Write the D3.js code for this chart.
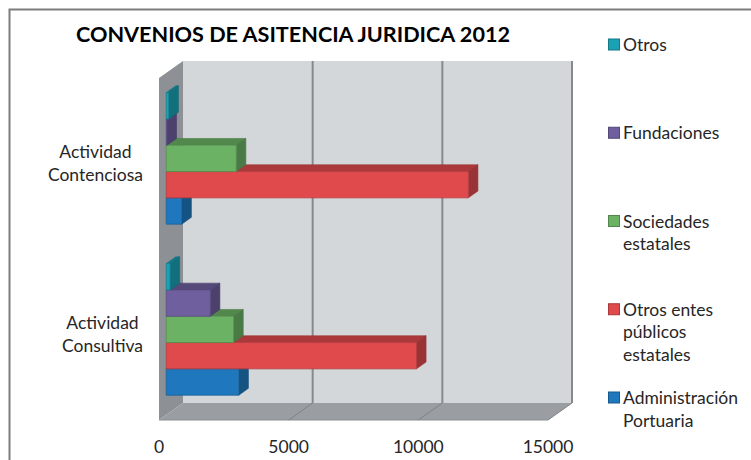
<!DOCTYPE html>
<html>
<head>
<meta charset="utf-8">
<script src="https://cdn.jsdelivr.net/npm/d3@7"></script>
<style>
  body { margin: 0; background: #ffffff; }
  svg { display: block; font-family: Lato, "Open Sans", sans-serif; }
</style>
</head>
<body>
<svg id="chart" width="751" height="460"></svg>
<script>
// Categories, top to bottom
const categories = ["Actividad Contenciosa", "Actividad Consultiva"];
const categoryLines = [["Actividad", "Contenciosa"], ["Actividad", "Consultiva"]];

// Series (first = bottom bar of each group)
const seriesNames = ["Administración Portuaria", "Otros entes públicos estatales",
                     "Sociedades estatales", "Fundaciones", "Otros"];
const administracionPortuaria = [600, 2800];
const otrosEntesPublicos = [11650, 9650];
const sociedadesEstatales = [2700, 2600];
const fundaciones = [30, 1700];
const otros = [100, 150];

const legendLines = [["Administración", "Portuaria"], ["Otros entes", "públicos", "estatales"],
                     ["Sociedades", "estatales"], ["Fundaciones"], ["Otros"]];
const xTicks = [0, 5000, 10000, 15000];

const seriesValues = [administracionPortuaria, otrosEntesPublicos, sociedadesEstatales, fundaciones, otros];
const seriesColors = ["#1f78be", "#e04a4d", "#6cb265", "#6f5f9f", "#1aa1b4"];

const svg = d3.select("#chart");

// Outer chart frame
svg.append("path")
  .attr("d", "M9.5,470 V9.5 H770")
  .attr("fill", "none").attr("stroke", "#7c7c7c").attr("stroke-width", 2);

// Title
svg.append("text")
  .attr("x", 76).attr("y", 42)
  .attr("font-size", 20).attr("font-weight", "bold").attr("fill", "#000")
  .attr("textLength", 434).attr("lengthAdjust", "spacingAndGlyphs")
  .text("CONVENIOS DE ASITENCIA JURIDICA 2012");

// Front plane of the 3D plot and depth offset
const x = d3.scaleLinear().domain([0, 15000]).range([159, 548]);
const y = d3.scaleBand().domain(categories).range([78, 420]);
const inner = d3.scaleBand()
  .domain(seriesNames.slice().reverse())
  .range([0, y.bandwidth()])
  .paddingInner(0).paddingOuter(0.75);
const depthX = 24, depthY = -17;
const proj = (px, py, d) => [px + depthX * d, py + depthY * d];
const poly = pts => "M" + pts.map(p => p.join(",")).join("L") + "Z";

const [y0, y1] = y.range();
const xMax = xTicks[xTicks.length - 1];

// Back wall
svg.append("path")
  .attr("d", poly([proj(x(0), y0, 1), proj(x(xMax), y0, 1), proj(x(xMax), y1, 1), proj(x(0), y1, 1)]))
  .attr("fill", "#d4d7d9");
// Side wall
svg.append("path")
  .attr("d", poly([proj(x(0), y0, 0), proj(x(0), y0, 1), proj(x(0), y1, 1), proj(x(0), y1, 0)]))
  .attr("fill", "#8d9196");
// Floor
svg.append("path")
  .attr("d", poly([proj(x(0), y1, 0), proj(x(0), y1, 1), proj(x(xMax), y1, 1), proj(x(xMax), y1, 0)]))
  .attr("fill", "#9a9da2");

// Gridlines on back wall and floor
xTicks.filter(t => t > 0).forEach(t => {
  const top = proj(x(t), y0, 1), bot = proj(x(t), y1, 1), front = proj(x(t), y1, 0);
  svg.append("line")
    .attr("x1", top[0]).attr("y1", top[1]).attr("x2", bot[0]).attr("y2", bot[1])
    .attr("stroke", "#868a8f").attr("stroke-width", 2);
  svg.append("line")
    .attr("x1", bot[0]).attr("y1", bot[1]).attr("x2", front[0]).attr("y2", front[1])
    .attr("stroke", "#7f8388").attr("stroke-width", 1);
});
// Floor front edge
svg.append("line")
  .attr("x1", x(0)).attr("y1", y1).attr("x2", x(xMax)).attr("y2", y1)
  .attr("stroke", "#8a8d92").attr("stroke-width", 1);

// Bars: lower categories and lower series first, so upper bars overlap
const d0 = 0.3, d1 = 0.7;
const gBars = svg.append("g");
categories.slice().reverse().forEach(cat => {
  const ci = categories.indexOf(cat);
  seriesNames.forEach((s, si) => {
    const v = seriesValues[si][ci];
    const base = d3.color(seriesColors[si]);
    const xa = x(0), xb = x(v);
    const ya = y(cat) + inner(s), yb = ya + inner.bandwidth();
    const g = gBars.append("g");
    g.append("path")
      .attr("d", poly([proj(xa, ya, d0), proj(xb, ya, d0), proj(xb, ya, d1), proj(xa, ya, d1)]))
      .attr("fill", base.darker(0.75)).attr("stroke", base.darker(1)).attr("stroke-width", 0.6);
    g.append("path")
      .attr("d", poly([proj(xb, ya, d0), proj(xb, ya, d1), proj(xb, yb, d1), proj(xb, yb, d0)]))
      .attr("fill", base.darker(1.05)).attr("stroke", base.darker(1.2)).attr("stroke-width", 0.6);
    g.append("path")
      .attr("d", poly([proj(xa, ya, d0), proj(xb, ya, d0), proj(xb, yb, d0), proj(xa, yb, d0)]))
      .attr("fill", base).attr("stroke", base.darker(0.6)).attr("stroke-width", 0.8);
  });
});

// Value axis labels under the front floor edge
svg.append("g").selectAll("text").data(xTicks).join("text")
  .attr("x", d => x(d)).attr("y", 453)
  .attr("text-anchor", "middle").attr("font-size", 17.5).attr("fill", "#262626")
  .text(d => d);

// Category labels: right-aligned block, lines centred within it
categories.forEach((cat, ci) => {
  const lines = categoryLines[ci];
  const cy = y(cat) + y.bandwidth() / 2;
  const g = svg.append("g");
  const texts = lines.map((ln, li) => g.append("text")
    .attr("y", cy + (li - (lines.length - 1) / 2) * 23.5 + 6)
    .attr("font-size", 17.5).attr("fill", "#262626")
    .attr("text-anchor", "middle").text(ln));
  const w = d3.max(texts, t => t.node().getComputedTextLength());
  texts.forEach(t => t.attr("x", 143 - w / 2));
});

// Legend, top entry is the last series
const legendOrder = seriesNames.map((s, i) => i).reverse();
const ly = d3.scalePoint().domain(legendOrder).range([45, 398]);
legendOrder.forEach(si => {
  const cy = ly(si);
  const base = d3.color(seriesColors[si]);
  svg.append("rect")
    .attr("x", 608.5).attr("y", cy - 6).attr("width", 11).attr("height", 11)
    .attr("fill", base).attr("stroke", base.darker(0.8)).attr("stroke-width", 1);
  legendLines[si].forEach((ln, li) => {
    svg.append("text")
      .attr("x", 623).attr("y", cy + li * 22.5 + 6)
      .attr("font-size", 17.5).attr("fill", "#262626")
      .text(ln);
  });
});
</script>
</body>
</html>
